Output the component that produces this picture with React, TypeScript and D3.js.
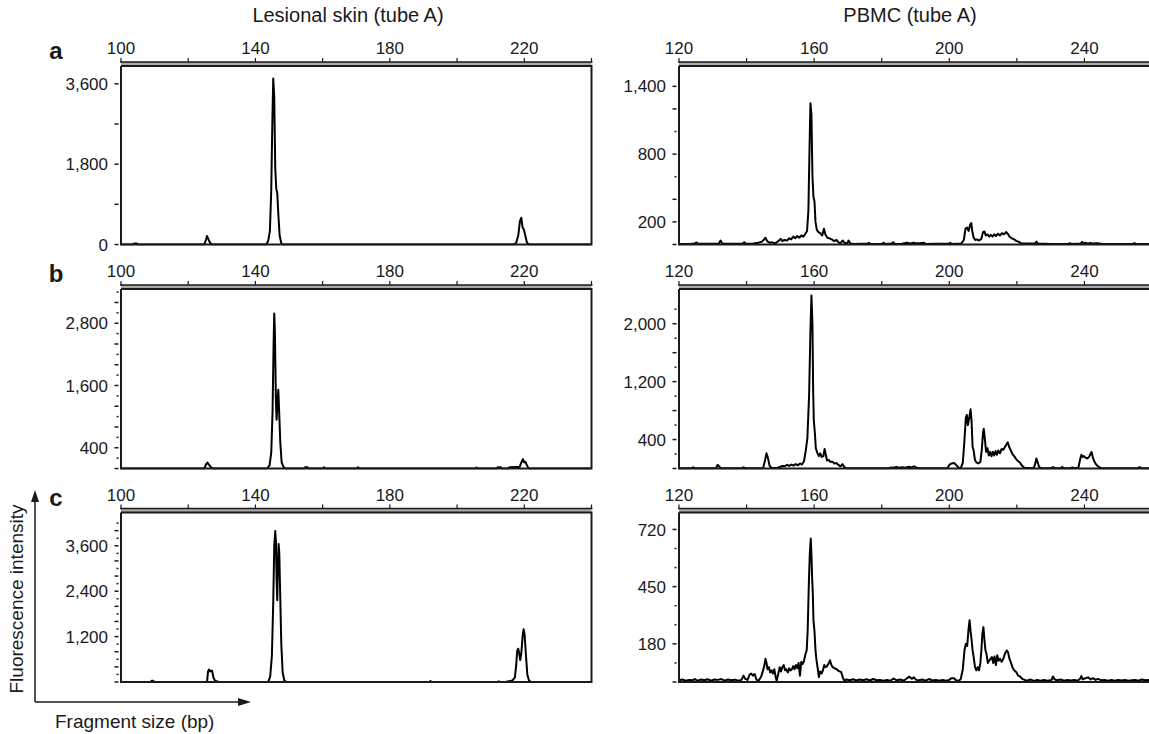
import React from 'react';
import * as d3 from 'd3';

type Pt = [number, number];

// size axes (bp)
const skinDomain = [100, 240];
const pbmcDomain = [120, 260];
const skinXLabels = [100, 140, 180, 220];
const pbmcXLabels = [120, 160, 200, 240];

// intensity axes, one entry per row (a, b, c)
const skinYMax = [4000, 3460, 4480];
const pbmcYMax = [1580, 2480, 800];
const skinTickStep = [900, 200, 200];
const pbmcTickStep = [200, 200, 90];
const skinTickTop = [3600, 3400, 4200];
const pbmcTickTop = [1400, 2200, 720];
const skinYLabels = [[0, 1800, 3600], [400, 1600, 2800], [1200, 2400, 3600]];
const pbmcYLabels = [[200, 800, 1400], [400, 1200, 2000], [180, 450, 720]];

// traces: [bp, intensity]
const skinA: Pt[] = [
  [100, 0], [103.5, 0], [104, 25], [104.6, 25], [105, 0],
  [124.8, 0], [125.3, 110], [125.6, 190], [126.0, 120], [126.5, 40], [127, 0],
  [143.2, 0], [143.8, 80], [144.3, 300], [144.7, 1200], [145.0, 2600], [145.3, 3720], [145.6, 3300],
  [145.9, 1700], [146.2, 1250], [146.5, 1150], [146.8, 700], [147.2, 200], [147.7, 30], [148.2, 0],
  [216.8, 0], [217.6, 40], [218.2, 200], [218.7, 520], [219.1, 600], [219.5, 380], [219.9, 330],
  [220.3, 200], [220.8, 40], [221.4, 0], [240, 0],
];

const skinB: Pt[] = [
  [100, 0], [124.8, 0], [125.3, 80], [125.7, 115], [126.2, 70], [126.8, 20], [127.3, 0],
  [143.5, 0], [144.2, 60], [144.7, 300], [145.1, 1100], [145.4, 2400], [145.6, 2990], [145.8, 2600],
  [146.1, 1300], [146.3, 940], [146.6, 1300], [146.8, 1520], [147.0, 1200], [147.4, 500], [147.8, 120],
  [148.4, 20], [149, 0],
  [154.5, 0], [154.8, 25], [155.5, 25], [155.8, 0], [160.1, 0], [160.4, 25], [160.8, 0],
  [170.2, 0], [170.5, 25], [170.9, 0], [205.5, 0], [205.8, 20], [206.1, 0],
  [211.8, 0], [212.1, 25], [212.6, 20], [213, 25], [213.3, 0], [215.2, 0], [215.6, 25], [217.8, 30],
  [218.6, 30], [219.3, 140], [219.6, 180], [219.9, 120], [220.3, 130], [220.8, 60], [221.3, 0], [240, 0],
];

const skinC: Pt[] = [
  [100, 0], [108.8, 0], [109.1, 30], [109.6, 30], [109.9, 0],
  [125.6, 0], [125.9, 280], [126.2, 330], [126.5, 280], [126.8, 300], [127.1, 300], [127.5, 120],
  [128, 30], [128.6, 20], [129, 0],
  [143.8, 0], [144.4, 150], [144.9, 700], [145.3, 2100], [145.6, 3600], [145.9, 3990], [146.1, 3700],
  [146.3, 2700], [146.5, 2160], [146.7, 3100], [146.9, 3645], [147.1, 3400], [147.4, 2200], [147.7, 1000],
  [148.1, 250], [148.6, 40], [149.2, 0],
  [191.8, 0], [192.1, 25], [192.4, 0], [212.1, 0], [212.4, 20], [212.7, 0],
  [214.4, 0], [215.4, 20], [216.5, 40], [217.2, 120], [217.6, 450], [217.9, 830], [218.2, 880],
  [218.5, 750], [218.8, 580], [219.1, 750], [219.5, 1200], [219.8, 1395], [220.1, 1250], [220.5, 700],
  [220.9, 200], [221.4, 40], [222, 0], [240, 0],
];

const pbmcA: Pt[] = [
  [120, 5], [123, 5], [124.6, 8], [125.2, 18], [125.6, 8], [128, 6], [131.8, 8], [132.3, 35], [132.8, 8],
  [135, 6], [138.8, 6], [139.3, 20], [139.8, 6], [142, 8], [143.5, 15], [144.5, 25], [145.2, 45], [145.6, 60],
  [146.1, 30], [146.8, 15], [147.4, 20], [148.5, 10], [149.6, 35], [150.1, 50], [150.6, 30], [151.2, 40],
  [152, 35], [152.6, 55], [153.2, 45], [153.8, 70], [154.4, 55], [155, 75], [155.6, 60], [156.2, 80],
  [156.8, 70], [157.4, 95], [157.9, 120], [158.3, 300], [158.6, 800], [158.9, 1250], [159.2, 1150],
  [159.5, 600], [159.8, 420], [160.1, 380], [160.4, 200], [160.8, 130], [161.3, 110], [161.8, 100],
  [162.4, 80], [162.9, 140], [163.3, 90], [163.9, 60], [164.5, 55], [165.2, 45], [166, 30], [166.6, 40],
  [167.2, 20], [167.7, 10], [168.5, 35], [169, 15], [169.8, 10], [170.2, 35], [170.7, 8], [172, 5],
  [175.8, 8], [176.2, 15], [176.6, 5], [180, 5], [180.6, 15], [181, 5], [183, 8], [183.4, 20], [183.8, 5],
  [186, 6], [187.4, 15], [188.5, 10], [189.4, 15], [190.3, 10], [191.2, 12], [192.5, 15], [193, 5],
  [196, 6], [200, 8], [200.3, 15], [200.6, 5], [203.5, 8], [204.3, 40], [204.8, 140], [205.3, 150],
  [205.7, 120], [206.2, 175], [206.5, 190], [206.8, 120], [207.2, 60], [207.7, 40], [208.2, 45],
  [208.8, 35], [209.5, 50], [210, 110], [210.4, 115], [210.8, 80], [211.3, 90], [211.8, 70], [212.3, 85],
  [212.8, 70], [213.3, 90], [213.8, 75], [214.4, 95], [215, 80], [215.6, 100], [216.2, 90], [216.8, 110],
  [217.3, 95], [217.8, 70], [218.5, 55], [219.2, 45], [219.9, 30], [220.6, 25], [221.2, 10], [222, 8],
  [225.4, 10], [225.8, 25], [226.2, 8], [230, 5], [235.3, 5], [235.7, 12], [236.1, 5], [238.9, 8],
  [239.3, 22], [239.7, 10], [240.3, 15], [241, 8], [241.7, 14], [242.5, 8], [243.4, 12], [244.2, 10],
  [245, 6], [250, 5], [254.4, 5], [254.8, 12], [255.2, 5], [260, 5],
];

const pbmcB: Pt[] = [
  [120, 5], [123.8, 5], [124.2, 18], [124.6, 5], [131, 5], [131.4, 50], [131.9, 30], [132.3, 5],
  [138.7, 5], [139.1, 18], [139.5, 5], [144.9, 5], [145.5, 120], [145.9, 210], [146.3, 150], [146.8, 40],
  [147.3, 10], [149, 5], [149.8, 20], [150.5, 35], [151.2, 30], [152, 50], [152.6, 35], [153.3, 55],
  [153.9, 40], [154.5, 60], [155.2, 45], [155.8, 70], [156.4, 55], [157, 100], [157.5, 240], [158, 420],
  [158.5, 1000], [158.9, 1900], [159.2, 2390], [159.5, 2000], [159.7, 1100], [159.9, 665], [160.2, 500],
  [160.5, 280], [160.9, 220], [161.4, 170], [161.8, 210], [162.2, 160], [162.7, 170], [163.1, 270],
  [163.4, 200], [163.8, 110], [164.3, 120], [164.8, 90], [165.4, 95], [166, 70], [166.6, 75], [167.2, 50],
  [167.8, 30], [168.4, 60], [168.9, 20], [169.6, 5], [182, 5], [182.8, 15], [183.5, 10], [184.3, 20],
  [185.2, 10], [186, 18], [187, 12], [188, 25], [188.8, 15], [189.5, 30], [190.2, 15], [191, 5],
  [199.5, 5], [200, 50], [200.7, 70], [201.5, 75], [202.2, 40], [202.8, 10], [203.4, 5], [204, 80],
  [204.5, 400], [204.9, 700], [205.2, 740], [205.5, 600], [205.9, 700], [206.3, 818], [206.6, 650],
  [206.9, 300], [207.2, 250], [207.6, 120], [208, 85], [208.6, 70], [209.2, 90], [209.6, 250], [210, 500],
  [210.2, 548], [210.5, 420], [210.9, 230], [211.3, 280], [211.7, 180], [212.1, 230], [212.5, 170],
  [212.9, 230], [213.3, 180], [213.7, 240], [214.1, 190], [214.5, 250], [215, 210], [215.5, 270],
  [216, 260], [216.5, 300], [217, 340], [217.3, 362], [217.7, 300], [218.2, 250], [218.7, 200],
  [219.2, 170], [219.8, 130], [220.4, 100], [220.9, 84], [221.5, 40], [222.2, 10], [225, 5], [225.4, 60],
  [225.8, 139], [226.2, 80], [226.6, 20], [227.2, 5], [230.3, 5], [230.7, 20], [231.1, 5], [233, 5],
  [233.4, 22], [233.8, 5], [235.8, 5], [236.4, 15], [237, 5], [238.2, 10], [238.7, 120], [239.1, 190],
  [239.5, 160], [239.9, 170], [240.3, 150], [240.8, 140], [241.4, 160], [242.1, 230], [242.5, 150],
  [242.9, 100], [243.4, 60], [244, 30], [244.9, 5], [256, 5], [256.3, 20], [256.7, 5], [260, 5],
];

const pbmcC: Pt[] = [
  [120, 8], [121, 12], [122, 6], [123, 10], [124, 8], [124.7, 14], [125.5, 6], [126.5, 12], [127.5, 8],
  [128.5, 13], [129.5, 6], [130.5, 12], [131.5, 10], [132.5, 14], [133.5, 6], [134.5, 12], [135.5, 8],
  [136.5, 11], [137.5, 6], [138.5, 10], [139.1, 30], [139.6, 15], [140.3, 10], [140.9, 35], [141.4, 40],
  [141.9, 30], [142.4, 38], [142.9, 12], [143.5, 5], [144.3, 25], [144.8, 50], [145.3, 80], [145.6, 110],
  [145.9, 90], [146.2, 60], [146.6, 70], [147, 45], [147.4, 55], [147.8, 40], [148.2, 60], [148.6, 25],
  [148.9, 5], [149.4, 40], [149.8, 70], [150.2, 50], [150.6, 70], [151, 80], [151.4, 55], [151.8, 60],
  [152.2, 45], [152.6, 65], [153, 55], [153.4, 60], [153.8, 75], [154.2, 60], [154.6, 80], [155, 65],
  [155.4, 90], [155.8, 30], [156.2, 95], [156.6, 85], [157, 100], [157.4, 130], [157.8, 150], [158.1, 250],
  [158.4, 448], [158.7, 600], [159, 677], [159.2, 600], [159.4, 495], [159.6, 420], [159.8, 291],
  [160.1, 240], [160.4, 150], [160.7, 102], [161, 70], [161.4, 23], [161.8, 50], [162.2, 40], [162.6, 55],
  [163, 80], [163.4, 70], [163.8, 75], [164.2, 85], [164.7, 102], [165.1, 80], [165.5, 70], [166, 65],
  [166.5, 62], [167, 55], [167.5, 50], [168, 47], [168.5, 20], [169, 5], [169.5, 12], [170.5, 8],
  [171.5, 13], [172.5, 7], [173.5, 12], [174.5, 8], [175.5, 13], [176.5, 7], [177.5, 14], [178.5, 8],
  [179.5, 10], [180.5, 6], [181.5, 10], [182.5, 6], [183.5, 16], [184.5, 8], [185.5, 12], [186.5, 6],
  [187.5, 18], [188.2, 25], [188.9, 15], [189.5, 22], [190.2, 10], [191, 8], [192, 12], [193, 6],
  [194, 14], [195, 7], [196, 10], [197, 6], [198, 9], [199, 6], [200, 10], [200.6, 18], [201.4, 18],
  [202, 8], [202.8, 5], [203.4, 15], [204, 60], [204.5, 150], [204.9, 180], [205.3, 170], [205.7, 250],
  [206, 291], [206.3, 240], [206.6, 200], [206.9, 149], [207.2, 120], [207.6, 70], [208, 55], [208.4, 70],
  [208.8, 55], [209.2, 90], [209.5, 150], [209.8, 230], [210.1, 259], [210.4, 200], [210.7, 150],
  [211, 134], [211.4, 90], [211.8, 100], [212.2, 110], [212.6, 118], [213, 90], [213.4, 120], [213.8, 80],
  [214.2, 126], [214.6, 100], [215, 110], [215.5, 95], [216, 110], [216.5, 135], [217, 149], [217.4, 140],
  [217.8, 110], [218.2, 94], [218.7, 70], [219.2, 55], [219.8, 47], [220.4, 30], [221, 25], [221.6, 15],
  [222.3, 10], [223, 6], [224, 12], [225, 5], [226, 10], [227, 6], [228, 9], [229, 6], [230.3, 10],
  [230.7, 26], [231.2, 12], [232, 8], [233, 12], [234, 6], [235, 10], [236, 7], [237, 10], [238, 6],
  [238.7, 15], [239.1, 28], [239.5, 12], [240.3, 18], [241.1, 22], [241.8, 12], [242.5, 18], [243.3, 10],
  [244, 15], [245, 8], [246, 10], [247, 6], [248, 9], [249, 6], [250, 10], [251, 7], [252, 10], [253, 6],
  [254, 8], [255, 10], [256, 6], [257, 12], [258, 8], [259, 10], [260, 8],
];

const skinSeries = [skinA, skinB, skinC];
const pbmcSeries = [pbmcA, pbmcB, pbmcC];
const rowLetters = ['a', 'b', 'c'];

// layout
const W = 1149;
const H = 734;
const rowTop = [66, 289, 512.5];
const rowBottom = [244.5, 468.5, 682];
const colLeft = [121, 679];
const colRight = [591.5, 1152];
const FONT = '"Liberation Sans", Arial, Helvetica, sans-serif';
const INK = '#1a1a1a';

interface PanelProps {
  id: string;
  data: Pt[];
  xDomain: number[];
  xLabels: number[];
  yMax: number;
  yStep: number;
  yTop: number;
  yLabels: number[];
  left: number;
  right: number;
  top: number;
  bottom: number;
}

const Panel = (p: PanelProps) => {
  const x = d3.scaleLinear().domain(p.xDomain).range([p.left, p.right]);
  const y = d3.scaleLinear().domain([0, p.yMax]).range([p.bottom, p.top]);
  const bandTop = p.top - 4;
  const xTicks = d3.range(p.xDomain[0], p.xDomain[1] + 1, 20);
  const yTicks = d3.range(0, p.yTop + 0.5, p.yStep);
  const fmt = d3.format(',');
  const line = d3.line<Pt>().x(d => x(d[0])).y(d => y(d[1]));

  return (
    <g>
      <defs>
        <clipPath id={p.id}>
          <rect x={p.left} y={p.top} width={p.right - p.left} height={p.bottom - p.top + 1} />
        </clipPath>
      </defs>
      {/* top scale band */}
      <rect x={p.left} y={bandTop} width={p.right - p.left} height={4} fill="#a9a9a9" />
      <line x1={p.left - 1} x2={p.right + 1} y1={bandTop} y2={bandTop} stroke={INK} strokeWidth={1.3} />
      {xTicks.map(t => (
        <line key={t} x1={x(t)} x2={x(t)} y1={bandTop} y2={bandTop - 4} stroke={INK} strokeWidth={1.2} />
      ))}
      {p.xLabels.map(t => (
        <text key={t} x={x(t)} y={bandTop - 8} textAnchor="middle" fontSize={17} fill={INK}>{t}</text>
      ))}
      {/* y ticks */}
      {yTicks.map(t => {
        const lab = p.yLabels.includes(t);
        const dash = lab || p.yStep > 200 || t % 400 === 0;
        return (
          <line key={t} x1={p.left - (dash ? 6.5 : 4.5)} x2={p.left - 2.5} y1={y(t)} y2={y(t)}
            stroke={INK} strokeWidth={1.5} />
        );
      })}
      {p.yLabels.map(t => (
        <text key={t} x={p.left - 13} y={y(t)} dy="0.36em" textAnchor="end" fontSize={17} fill={INK}>{fmt(t)}</text>
      ))}
      {/* trace */}
      <path d={line(p.data) ?? ''} fill="none" stroke="#000" strokeWidth={2} strokeLinejoin="round"
        clipPath={`url(#${p.id})`} />
      {/* frame */}
      <path d={`M${p.left},${p.top} V${p.bottom} H${p.right} V${p.top} H${p.left}`} fill="none"
        stroke={INK} strokeWidth={2} />
    </g>
  );
};

const App = () => {
  return (
    <svg width={W} height={H} style={{ position: 'absolute', left: 0, top: 0, background: '#fff' }}
      fontFamily={FONT}>
      <rect width={W} height={H} fill="#fff" />
      <text x={348} y={22} textAnchor="middle" fontSize={20} fill={INK}>Lesional skin (tube A)</text>
      <text x={910} y={22} textAnchor="middle" fontSize={20} fill={INK}>PBMC (tube A)</text>
      {rowLetters.map((l, i) => (
        <g key={l}>
          <text x={56} y={rowTop[i] - 7} textAnchor="middle" fontSize={24} fontWeight="bold" fill={INK}>{l}</text>
          <Panel id={`clip-skin-${i}`} data={skinSeries[i]} xDomain={skinDomain} xLabels={skinXLabels}
            yMax={skinYMax[i]} yStep={skinTickStep[i]} yTop={skinTickTop[i]} yLabels={skinYLabels[i]}
            left={colLeft[0]} right={colRight[0]} top={rowTop[i]} bottom={rowBottom[i]} />
          <Panel id={`clip-pbmc-${i}`} data={pbmcSeries[i]} xDomain={pbmcDomain} xLabels={pbmcXLabels}
            yMax={pbmcYMax[i]} yStep={pbmcTickStep[i]} yTop={pbmcTickTop[i]} yLabels={pbmcYLabels[i]}
            left={colLeft[1]} right={colRight[1]} top={rowTop[i]} bottom={rowBottom[i]} />
        </g>
      ))}
      {/* axis key arrows */}
      <line x1={35} x2={35} y1={702} y2={500} stroke={INK} strokeWidth={1.5} />
      <path d="M35,490 L39,502 L31,502 Z" fill={INK} />
      <line x1={35} x2={240} y1={702} y2={702} stroke={INK} strokeWidth={1.5} />
      <path d="M251,702 L238,698 L238,706 Z" fill={INK} />
      <text transform="translate(23,599) rotate(-90)" textAnchor="middle" fontSize={19} fill={INK}>
        Fluorescence intensity
      </text>
      <text x={55} y={728} fontSize={19} fill={INK}>Fragment size (bp)</text>
    </svg>
  );
};

export default App;
